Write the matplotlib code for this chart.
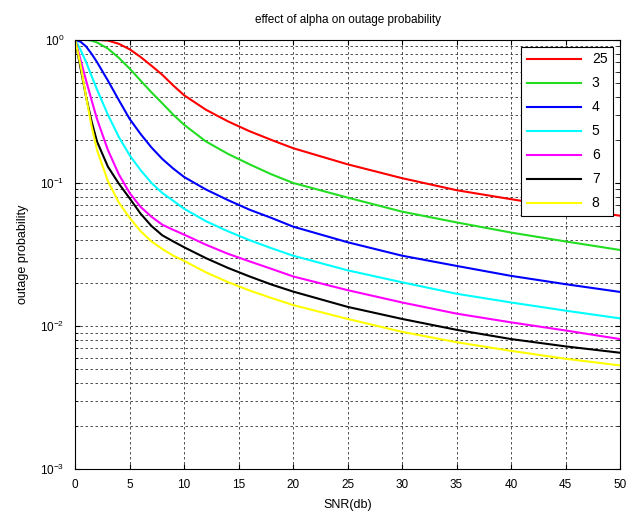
import matplotlib
matplotlib.use('Agg')
import matplotlib.pyplot as plt
from matplotlib.ticker import LogLocator, NullFormatter

plt.rcParams['font.family'] = ['Liberation Sans', 'DejaVu Sans']

snr = [0, 0.5, 1, 1.5, 2, 3, 4, 5, 6, 7, 8, 9, 10, 12, 14, 16, 18, 20, 25, 30, 35, 40, 45, 50]

p_25 = [1, 1, 1, 1, 1, 0.99, 0.94, 0.86, 0.76, 0.66, 0.57, 0.48, 0.41, 0.325, 0.27, 0.23,
        0.2, 0.175, 0.135, 0.108, 0.089, 0.077, 0.067, 0.059]
p_3 = [1, 1, 1, 0.99, 0.96, 0.87, 0.75, 0.63, 0.52, 0.43, 0.36, 0.3, 0.255, 0.195, 0.16,
       0.135, 0.115, 0.1, 0.079, 0.063, 0.053, 0.045, 0.039, 0.034]
p_4 = [1, 0.97, 0.9, 0.8, 0.7, 0.52, 0.38, 0.28, 0.22, 0.177, 0.147, 0.126, 0.11, 0.09,
       0.076, 0.065, 0.057, 0.0495, 0.0385, 0.031, 0.0263, 0.0224, 0.0196, 0.0173]
p_5 = [1, 0.85, 0.7, 0.56, 0.45, 0.3, 0.21, 0.156, 0.123, 0.1, 0.085, 0.075, 0.066, 0.054,
       0.046, 0.0398, 0.035, 0.031, 0.0245, 0.0202, 0.0168, 0.0146, 0.0128, 0.0113]
p_6 = [1, 0.72, 0.52, 0.38, 0.28, 0.17, 0.115, 0.085, 0.068, 0.058, 0.051, 0.047, 0.0435,
       0.037, 0.032, 0.0283, 0.0251, 0.0222, 0.0178, 0.0146, 0.0122, 0.0106, 0.0093, 0.0081]
p_7 = [1, 0.63, 0.4, 0.27, 0.195, 0.13, 0.099, 0.078, 0.061, 0.05, 0.043, 0.039, 0.0355,
       0.0298, 0.0255, 0.0222, 0.0195, 0.0174, 0.0136, 0.0112, 0.0094, 0.0081, 0.0072, 0.0065]
p_8 = [1, 0.66, 0.4, 0.25, 0.17, 0.103, 0.073, 0.057, 0.046, 0.039, 0.0345, 0.031, 0.0285,
       0.0237, 0.0203, 0.0177, 0.0157, 0.014, 0.0112, 0.0091, 0.0077, 0.0067, 0.0059, 0.0053]

series = [p_25, p_3, p_4, p_5, p_6, p_7, p_8]
labels = ['25', '3', '4', '5', '6', '7', '8']
colors = ['#ff0000', '#22dd22', '#0000ff', '#00ffff', '#ff00ff', '#000000', '#ffff00']

fig = plt.figure(figsize=(6.32, 5.12), dpi=100)
ax = fig.add_axes([0.119, 0.084, 0.862, 0.838])

for vals, lab, col in zip(series, labels, colors):
    ax.semilogy(snr, vals, color=col, linewidth=1.5, label=lab)

ax.set_xlim(0, 50)
ax.set_ylim(1e-3, 1)
ax.set_xticks(range(0, 51, 5))
ax.yaxis.set_major_locator(LogLocator(base=10, numticks=10))
ax.yaxis.set_minor_locator(LogLocator(base=10, subs=range(2, 10), numticks=20))
ax.yaxis.set_minor_formatter(NullFormatter())

ax.grid(True, which='both', color='#333333', linestyle=(0, (3, 3)), linewidth=0.6)
ax.tick_params(direction='in', which='both', top=True, right=True, labelsize=8.5)
ax.tick_params(axis='x', which='major', pad=7)
ax.tick_params(axis='y', which='major', pad=8)
for s in ax.spines.values():
    s.set_linewidth(0.8)

ax.set_title('effect of alpha on outage probability', fontsize=8.5, pad=12)
ax.set_xlabel('SNR(db)', fontsize=9, labelpad=6)
ax.set_ylabel('outage probability', fontsize=9, labelpad=8)

leg = ax.legend(loc='upper right', fontsize=10, handlelength=3.9, labelspacing=0.72,
                borderaxespad=0.5, fancybox=False, edgecolor='black', framealpha=1)
leg.get_frame().set_linewidth(0.8)

plt.savefig('out.png', dpi=100)
